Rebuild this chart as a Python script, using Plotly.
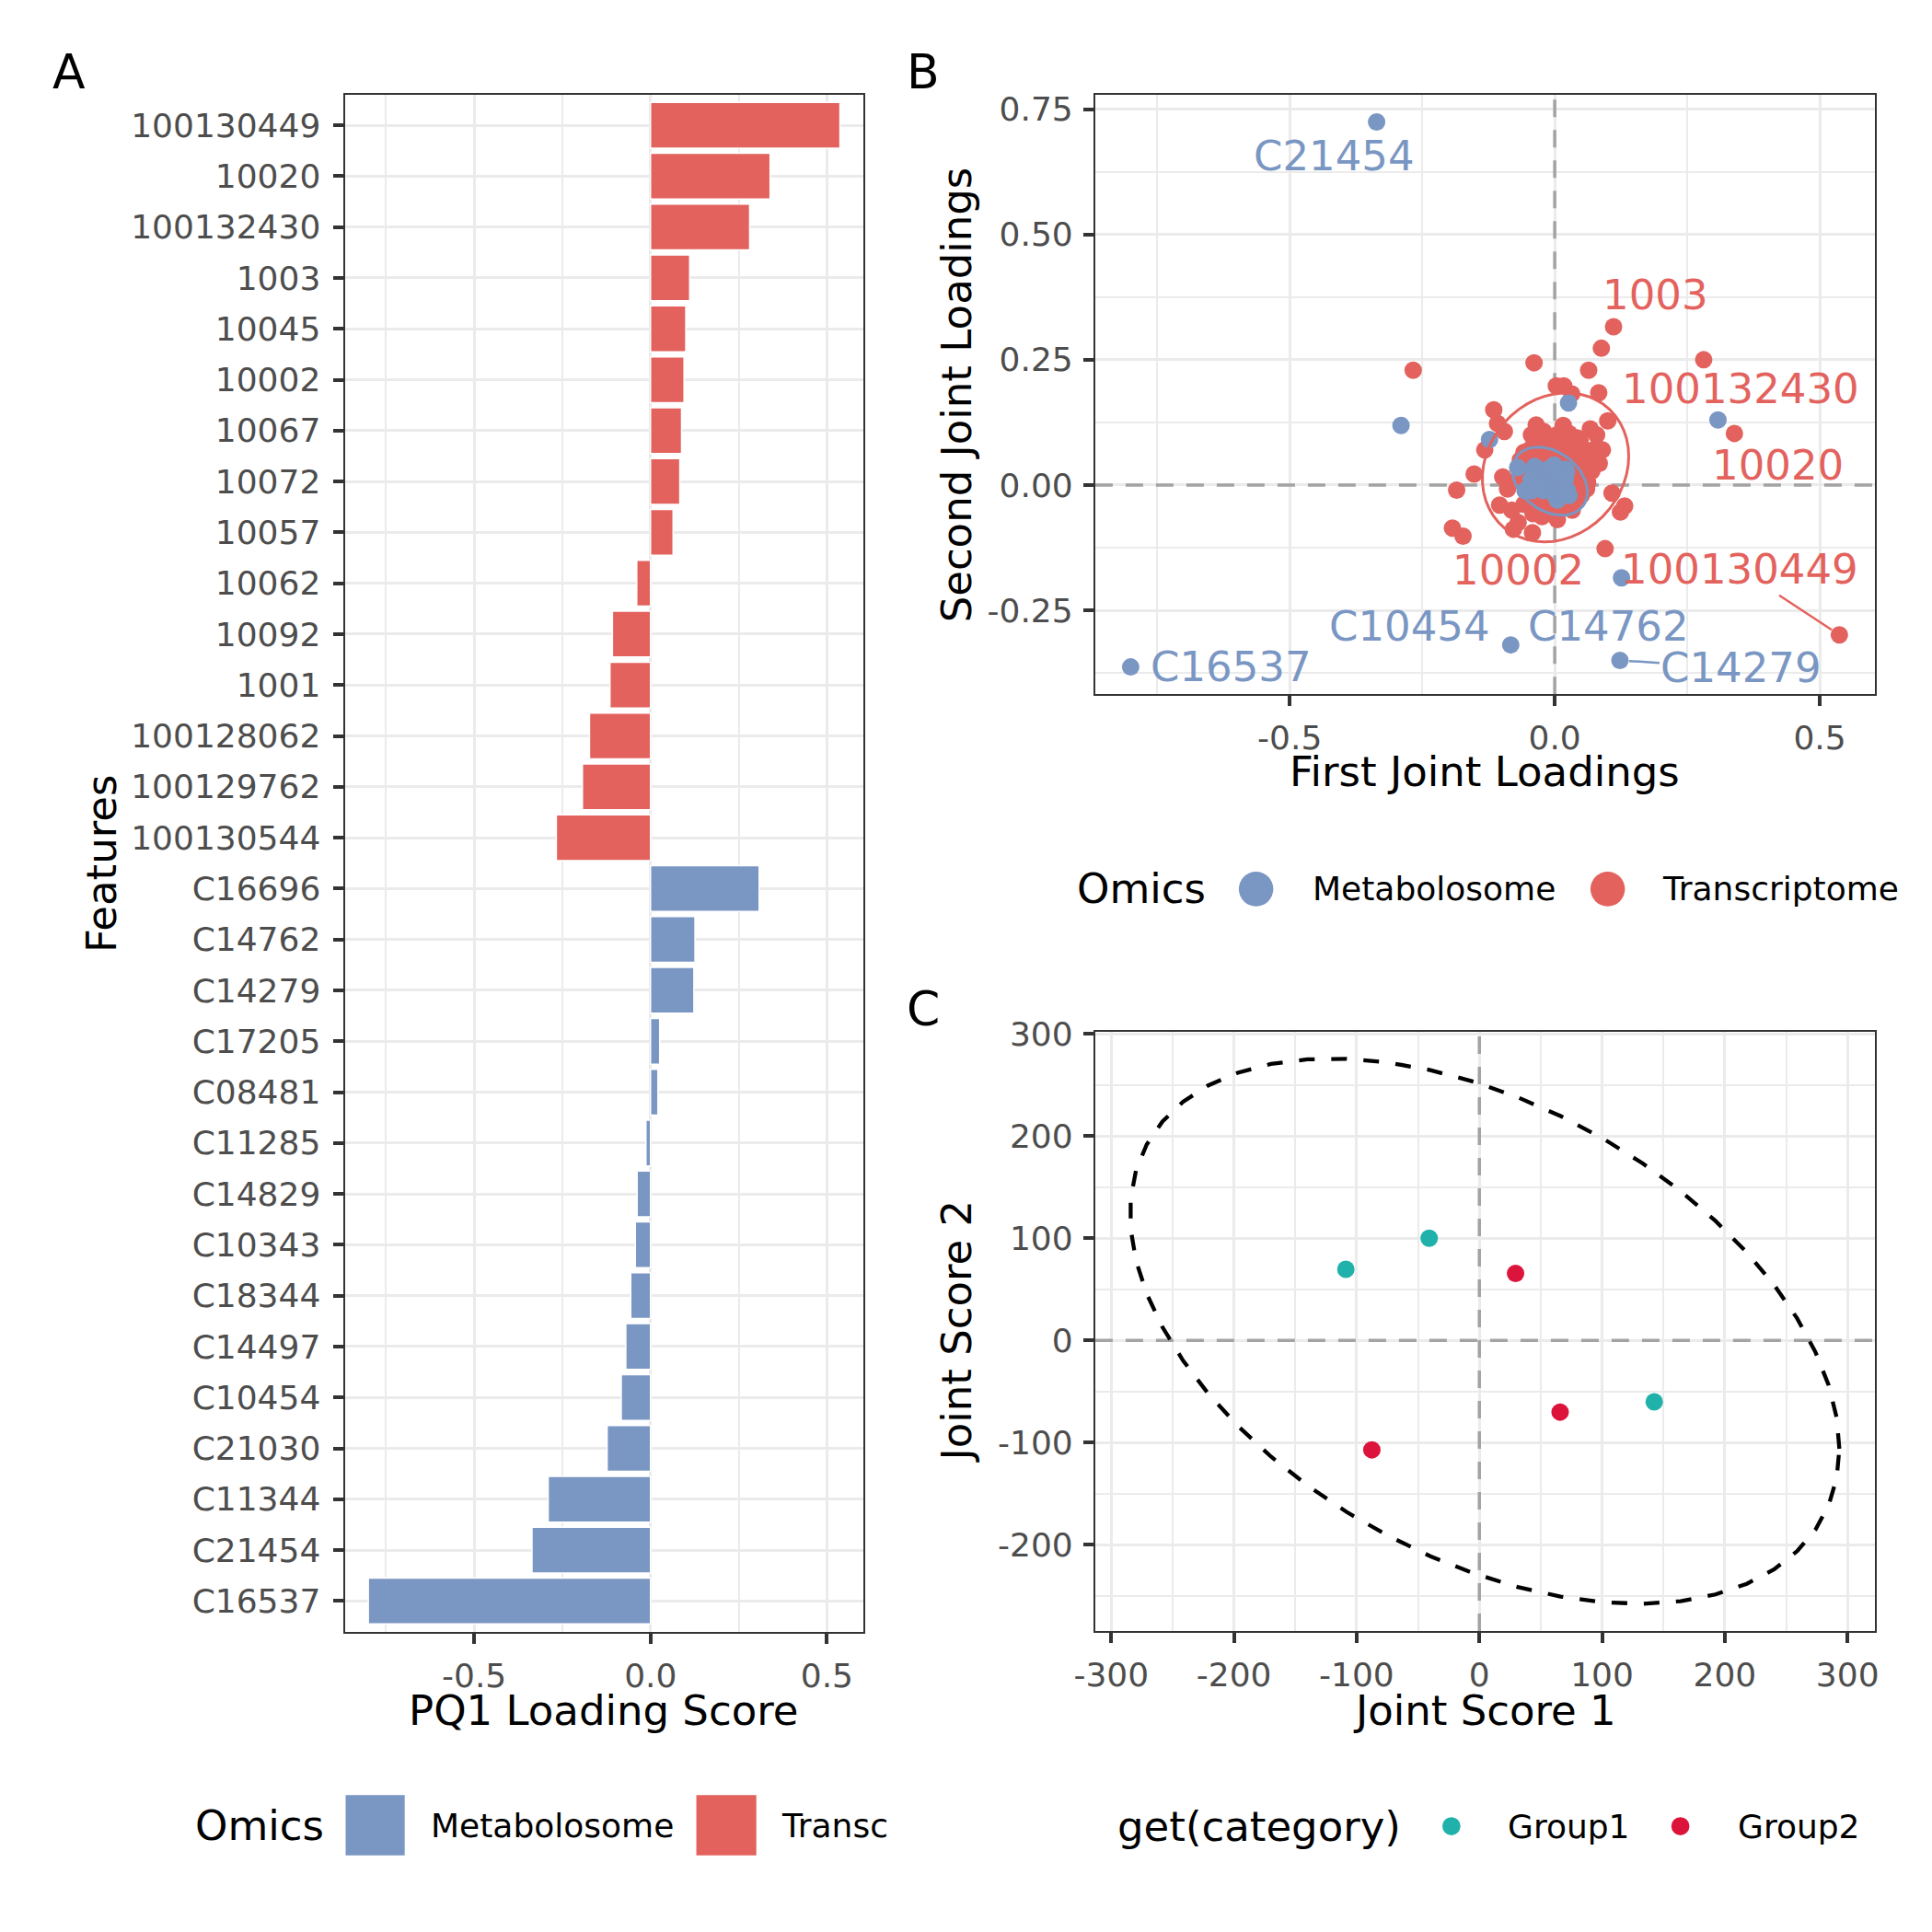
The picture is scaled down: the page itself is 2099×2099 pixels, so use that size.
import numpy as np
import plotly.graph_objects as go

# -------- DATA --------
# panel A / B : named features, in bar order (top to bottom)
trans_features = ["100130449", "10020", "100132430", "1003", "10045", "10002", "10067",
                  "10072", "10057", "10062", "10092", "1001", "100128062", "100129762", "100130544"]
trans_pq1 = [0.537, 0.339, 0.281, 0.111, 0.100, 0.095, 0.088,
             0.083, 0.064, -0.039, -0.108, -0.115, -0.173, -0.193, -0.267]
trans_pq2 = [-0.299, 0.103, 0.250, 0.316, 0.128, -0.127, 0.273,
             0.184, 0.229, 0.244, 0.123, 0.150, -0.102, -0.086, 0.229]

metab_features = ["C16696", "C14762", "C14279", "C17205", "C08481", "C11285", "C14829",
                  "C10343", "C18344", "C14497", "C10454", "C21030", "C11344", "C21454", "C16537"]
metab_pq1 = [0.308, 0.126, 0.123, 0.026, 0.021, -0.013, -0.038,
             -0.043, -0.056, -0.070, -0.083, -0.123, -0.290, -0.336, -0.800]
metab_pq2 = [0.130, -0.185, -0.350, 0.164, 0.031, 0.020, 0.037,
             -0.011, -0.011, 0.035, -0.319, 0.091, 0.119, 0.7245, -0.363]

# panel B : remaining (unlabelled) loadings, visible ones
trans_other_pq1 = [0.003, 0.017, 0.032, -0.095, -0.132, -0.152, -0.185, 0.108, 0.132, 0.124,
                   -0.078, -0.042, -0.035, -0.044, -0.021, 0.016, 0.027, 0.042, 0.067, 0.079,
                   0.053, 0.073, 0.039, 0.067, 0.056, 0.090, 0.084, 0.070, -0.098, -0.089,
                   -0.104, -0.081, -0.058, -0.041, -0.024, 0.005, 0.033, 0.050, 0.033, -0.069,
                   -0.001, -0.061, 0.045, 0.060, -0.020, 0.010, -0.030, 0.015, -0.050, 0.030]
trans_other_pq2 = [0.198, 0.198, 0.182, 0.107, 0.070, 0.022, -0.010, -0.016, -0.042, -0.054,
                   -0.088, -0.095, 0.120, 0.100, 0.107, 0.119, 0.103, 0.094, 0.112, 0.100,
                   0.073, 0.070, 0.052, 0.040, 0.022, 0.070, 0.043, 0.028, 0.016, -0.008,
                   -0.040, -0.050, -0.038, -0.057, -0.063, -0.069, -0.050, -0.021, -0.033, -0.075,
                   0.076, 0.016, 0.000, -0.008, 0.060, 0.045, -0.020, -0.040, 0.055, 0.020]

# panel B : loadings packed in the central blob (mostly hidden under other points)
trans_core_pq1 = [-0.060, -0.050, -0.045, -0.040, -0.035, -0.030, -0.028, -0.025, -0.022, -0.020,
                  -0.018, -0.015, -0.012, -0.010, -0.008, -0.005, -0.003, 0.000, 0.002, 0.004,
                  0.006, 0.008, 0.010, 0.012, 0.014, 0.016, 0.018, 0.020, 0.022, 0.024,
                  0.026, 0.028, 0.030, 0.034, 0.038, 0.042, 0.046, 0.050, 0.055, -0.065,
                  -0.055, -0.048, -0.038, -0.032, -0.026, -0.016, -0.006, 0.004, 0.014, 0.032,
                  0.040, 0.048, 0.058, 0.062, -0.070, -0.058, 0.036, -0.004, 0.018, -0.042]
trans_core_pq2 = [0.030, 0.040, 0.020, 0.060, 0.005, 0.045, 0.025, 0.080, -0.010, 0.035,
                  0.010, 0.055, -0.025, 0.030, 0.070, 0.000, 0.045, 0.020, -0.015, 0.060,
                  0.030, 0.005, 0.085, -0.030, 0.040, 0.015, 0.065, -0.005, 0.050, 0.025,
                  0.090, 0.000, 0.060, 0.035, 0.010, 0.075, 0.045, 0.015, 0.060, 0.050,
                  -0.005, 0.070, -0.020, 0.085, -0.035, 0.095, -0.040, 0.100, -0.045, -0.015,
                  -0.030, 0.090, 0.030, 0.005, 0.010, 0.065, 0.080, 0.060, 0.040, 0.040]

metab_other_pq1 = [-0.001, 0.019, -0.030, -0.007, -0.021, 0.002, 0.024, 0.010, 0.022, 0.027,
                   -0.021, 0.005, -0.044]
metab_other_pq2 = [0.040, 0.031, 0.016, 0.016, -0.011, -0.023, -0.011, -0.014, 0.025, -0.021,
                   0.001, -0.030, 0.010]

metab_core_pq1 = [-0.040, -0.035, -0.032, -0.028, -0.025, -0.022, -0.020, -0.018, -0.015, -0.013,
                  -0.010, -0.008, -0.006, -0.004, -0.002, 0.000, 0.002, 0.004, 0.006, 0.008,
                  0.010, 0.012, 0.014, 0.016, 0.018, 0.020, -0.045, -0.030, -0.012, 0.022]
metab_core_pq2 = [0.026, 0.018, 0.030, 0.012, 0.022, 0.006, 0.028, 0.016, 0.000, 0.024,
                  0.010, -0.006, 0.020, 0.004, -0.012, 0.014, -0.002, 0.022, -0.016, 0.008,
                  -0.006, 0.016, -0.020, 0.002, -0.010, 0.012, 0.010, -0.004, 0.032, -0.016]

labelled = ["C21454", "C16537", "C10454", "C14762", "C14279",
            "1003", "100132430", "10020", "10002", "100130449"]

# panel C : joint scores
group1_s1 = [-108.8, -40.9, 142.5]
group1_s2 = [69.6, 100.0, -60.1]
group2_s1 = [29.5, 65.8, -87.6]
group2_s2 = [65.5, -70.2, -107.1]

# -------- STYLE --------
W = H = 2099
OX, OY = -20, -20          # global nudge of the whole layout, in pixels
RED = "#E3625D"
BLUE = "#7A96C3"
TEAL = "#20B2AA"
CRIMSON = "#DC143C"
GRID = "#EBEBEB"
FONT = "DejaVu Sans"


def px(x):
    return (x + OX) / W


def py(y):
    return 1 - (y + OY) / H


def cov_trob(pts, nu=5, maxit=25, tol=0.01):
    # same algorithm as MASS::cov.trob (used by ggplot2 stat_ellipse)
    n, p = pts.shape
    wt = np.ones(n)
    loc = pts.mean(axis=0)
    w = np.sqrt(wt)
    for _ in range(maxit):
        w0 = w
        X = pts - loc
        _, d, vt = np.linalg.svd(np.sqrt(w / w.sum())[:, None] * X, full_matrices=False)
        wX = X @ vt.T @ np.diag(1 / d)
        Q = (wX ** 2).sum(axis=1)
        w = wt * (nu + p) / (nu + Q)
        loc = (w[:, None] * pts).sum(axis=0) / w.sum()
        if np.all(np.abs(w - w0) < tol):
            break
    sX = np.sqrt(w)[:, None] * X
    return loc, sX.T @ sX / wt.sum()


def ellipse(xs, ys, level=0.95, segments=51):
    pts = np.column_stack([xs, ys])
    center, shape = cov_trob(pts)
    dfd = len(xs) - 1
    qf = dfd / 2 * ((1 - level) ** (-2 / dfd) - 1)  # F quantile, dfn = 2
    radius = np.sqrt(2 * qf)
    ang = np.arange(segments + 1) * 2 * np.pi / segments
    circle = np.column_stack([np.cos(ang), np.sin(ang)])
    e = center + radius * circle @ np.linalg.cholesky(shape).T
    return e[:, 0], e[:, 1]


def expand(vals, mult=0.05):
    lo, hi = min(vals), max(vals)
    pad = (hi - lo) * mult
    return [lo - pad, hi + pad]


def fmt(v, nd):
    return f"{v:.{nd}f}"


# -------- DERIVED --------
features = trans_features + metab_features
t_x = trans_pq1 + trans_other_pq1 + trans_core_pq1
t_y = trans_pq2 + trans_other_pq2 + trans_core_pq2
m_x = metab_pq1 + metab_other_pq1 + metab_core_pq1
m_y = metab_pq2 + metab_other_pq2 + metab_core_pq2
all_s1 = group1_s1 + group2_s1
all_s2 = group1_s2 + group2_s2

m_ex, m_ey = ellipse(m_x, m_y)
t_ex, t_ey = ellipse(t_x, t_y)
cx, cy = ellipse(all_s1, all_s2)

a_xr = expand(trans_pq1 + metab_pq1 + [0])
b_xr = expand(t_x + m_x)
b_yr = expand(t_y + m_y)
c_xr = expand(list(cx))
c_yr = expand(list(cy))

fig = go.Figure()

# -------- PANEL A : bars --------
fig.add_trace(go.Bar(
    x=trans_pq1, y=trans_features, orientation="h", width=0.9,
    marker=dict(color=RED, line=dict(color="white", width=1.5)),
    xaxis="x", yaxis="y", showlegend=False))
fig.add_trace(go.Bar(
    x=metab_pq1, y=metab_features, orientation="h", width=0.9,
    marker=dict(color=BLUE, line=dict(color="white", width=1.5)),
    xaxis="x", yaxis="y", showlegend=False))

# dashed zero reference lines (drawn first, so they sit under the points)
zero_line = dict(color="#A3A3A3", width=3.5, dash="19px,14px")
for xa, ya, xr, yr in (("x2", "y2", b_xr, b_yr), ("x3", "y3", c_xr, c_yr)):
    fig.add_trace(go.Scatter(x=xr, y=[0, 0], mode="lines", line=zero_line,
                             xaxis=xa, yaxis=ya, showlegend=False, hoverinfo="skip"))
    fig.add_trace(go.Scatter(x=[0, 0], y=yr, mode="lines", line=zero_line,
                             xaxis=xa, yaxis=ya, showlegend=False, hoverinfo="skip"))

# -------- PANEL B : loadings --------
fig.add_trace(go.Scatter(x=t_x, y=t_y, mode="markers", marker=dict(color=RED, size=19),
                         xaxis="x2", yaxis="y2", showlegend=False))
fig.add_trace(go.Scatter(x=m_x, y=m_y, mode="markers", marker=dict(color=BLUE, size=19),
                         xaxis="x2", yaxis="y2", showlegend=False))
fig.add_trace(go.Scatter(x=m_ex, y=m_ey, mode="lines", line=dict(color=BLUE, width=3),
                         xaxis="x2", yaxis="y2", showlegend=False))
fig.add_trace(go.Scatter(x=t_ex, y=t_ey, mode="lines", line=dict(color=RED, width=3),
                         xaxis="x2", yaxis="y2", showlegend=False))

# -------- PANEL C : scores --------
fig.add_trace(go.Scatter(x=cx, y=cy, mode="lines",
                         line=dict(color="black", width=4.3, dash="17px,18px"),
                         xaxis="x3", yaxis="y3", showlegend=False))
fig.add_trace(go.Scatter(x=group1_s1, y=group1_s2, mode="markers",
                         marker=dict(color=TEAL, size=19), xaxis="x3", yaxis="y3", showlegend=False))
fig.add_trace(go.Scatter(x=group2_s1, y=group2_s2, mode="markers",
                         marker=dict(color=CRIMSON, size=19), xaxis="x3", yaxis="y3", showlegend=False))

# -------- AXES --------
tick_font = dict(family=FONT, size=36, color="#4D4D4D")
base_axis = dict(showline=True, mirror=True, linecolor="#333333", linewidth=2,
                 ticks="outside", ticklen=11, tickwidth=4, tickcolor="#333333",
                 gridcolor=GRID, gridwidth=3.3, zeroline=False, tickfont=tick_font,
                 ticklabelstandoff=4)


def num_axis(domain, rng, major, nd, anchor):
    minor = [(a + b) / 2 for a, b in zip(major[:-1], major[1:])]
    step = major[1] - major[0]
    minor = [major[0] - step / 2] + minor + [major[-1] + step / 2]
    return dict(base_axis, domain=domain, range=rng, anchor=anchor,
                tickmode="array", tickvals=major, ticktext=[fmt(v, nd) for v in major],
                minor=dict(tickvals=minor, showgrid=True, gridcolor=GRID, gridwidth=2, ticks=""))


a_ticks = [-0.5, 0.0, 0.5]
b_xticks = [-0.5, 0.0, 0.5]
b_yticks = [-0.25, 0.0, 0.25, 0.5, 0.75]
c_ticks = [-300, -200, -100, 0, 100, 200, 300]

fig.update_layout(
    xaxis=num_axis([px(368), px(939)], a_xr, a_ticks, 1, "y"),
    yaxis=dict(base_axis, domain=[py(1781.7), py(97.6)], anchor="x",
               type="category", categoryorder="array", categoryarray=features,
               range=[len(features) - 0.4, -0.6], ticklabelstandoff=6),
    xaxis2=num_axis([px(1194), px(2052)], b_xr, b_xticks, 1, "y2"),
    yaxis2=num_axis([py(754.5), py(97.6)], b_yr, b_yticks, 2, "x2"),
    xaxis3=num_axis([px(1194), px(2052)], c_xr, c_ticks, 0, "y3"),
    yaxis3=num_axis([py(1781.1), py(1124.2)], c_yr, c_ticks, 0, "x3"),
)

# -------- TEXT --------
ann = []
shapes = []


def text(x, y, s, size=45, color="black", xanchor="center", angle=0):
    ann.append(dict(x=px(x), y=py(y), xref="paper", yref="paper", text=s, showarrow=False,
                    xanchor=xanchor, yanchor="middle", textangle=angle,
                    font=dict(family=FONT, size=size, color=color)))


# panel tags
text(65, 72, "A", size=52)
text(1005, 72, "B", size=52)
text(1005, 1099, "C", size=52)
# axis titles
text(653, 1868, "PQ1 Loading Score")
text(100, 940, "Features", angle=-90)
text(1623, 840, "First Joint Loadings")
text(1042, 426, "Second Joint Loadings", angle=-90)
text(1623, 1868, "Joint Score 1")
text(1042, 1453, "Joint Score 2", angle=-90)

# point labels in panel B (pixel offsets of label centre from point)
label_offsets = {
    "C21454": (-46, 37, False), "C16537": (109, 0, False), "C10454": (-110, -20, False),
    "C14762": (-14, 53, False), "C14279": (132, 8, True),
    "1003": (45, -34, False), "100132430": (40, 32, False), "10020": (47, 35, False),
    "10002": (-94, 23, False), "100130449": (-108, -71, True),
}
for name in labelled:
    if name in trans_features:
        i = trans_features.index(name)
        lx, ly, col = trans_pq1[i], trans_pq2[i], RED
    else:
        i = metab_features.index(name)
        lx, ly, col = metab_pq1[i], metab_pq2[i], BLUE
    dx, dy, seg = label_offsets[name]
    ann.append(dict(x=lx, y=ly, xref="x2", yref="y2", text=name, showarrow=True,
                    ax=dx, ay=dy, arrowhead=0, arrowwidth=2.5, standoff=10,
                    arrowcolor=col if seg else "rgba(0,0,0,0)",
                    font=dict(family=FONT, size=45, color=col)))

# legends
text(201, 1994, "Omics", xanchor="left")
shapes.append(dict(type="rect", xref="paper", yref="paper", x0=px(369), x1=px(434),
                   y0=py(2027), y1=py(1961), fillcolor=BLUE, line=dict(width=0)))
text(461, 1994, "Metabolosome", size=36, xanchor="left")
shapes.append(dict(type="rect", xref="paper", yref="paper", x0=px(755), x1=px(821),
                   y0=py(2027), y1=py(1961), fillcolor=RED, line=dict(width=0)))
text(847, 1994, "Transc", size=36, xanchor="left")

text(1172, 968, "Omics", xanchor="left")
for cxp, col in ((1371, BLUE), (1758, RED)):
    shapes.append(dict(type="circle", xref="paper", yref="paper", x0=px(cxp - 19), x1=px(cxp + 19),
                       y0=py(968 + 19), y1=py(968 - 19), fillcolor=col, line=dict(width=0)))
text(1431, 968, "Metabolosome", size=36, xanchor="left")
text(1816, 968, "Transcriptome", size=36, xanchor="left")

text(1216, 1995, "get(category)", xanchor="left")
for cxp, col in ((1586, TEAL), (1838, CRIMSON)):
    shapes.append(dict(type="circle", xref="paper", yref="paper", x0=px(cxp - 10), x1=px(cxp + 10),
                       y0=py(1995 + 10), y1=py(1995 - 10), fillcolor=col, line=dict(width=0)))
text(1646, 1995, "Group1", size=36, xanchor="left")
text(1899, 1995, "Group2", size=36, xanchor="left")

fig.update_layout(
    annotations=ann,
    shapes=shapes,
    width=W, height=H,
    margin=dict(l=0, r=0, t=0, b=0),
    paper_bgcolor="white", plot_bgcolor="white",
    barmode="overlay",
    font=dict(family=FONT),
    showlegend=False,
)

fig.write_html("out.html")
